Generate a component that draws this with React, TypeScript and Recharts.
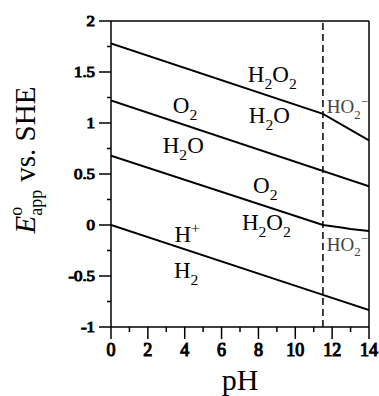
import React from 'react';
import { LineChart, Line, XAxis, YAxis, ReferenceLine, ReferenceDot } from 'recharts';

// ---- data ----
const xTicks = [0, 1, 2, 3, 4, 5, 6, 7, 8, 9, 10, 11, 12, 13, 14];
const xMajorTicks = [0, 2, 4, 6, 8, 10, 12, 14];
const yTicks = [-1, -0.75, -0.5, -0.25, 0, 0.25, 0.5, 0.75, 1, 1.25, 1.5, 1.75, 2];
const yMajorTicks = [-1, -0.5, 0, 0.5, 1, 1.5, 2];

const h2o2ToH2o = [
  { pH: 0, E: 1.78 },
  { pH: 11.5, E: 1.09 },
  { pH: 14, E: 0.83 },
];
const o2ToH2o = [
  { pH: 0, E: 1.22 },
  { pH: 14, E: 0.38 },
];
const o2ToH2o2 = [
  { pH: 0, E: 0.68 },
  { pH: 11.5, E: 0.0 },
  { pH: 12.5, E: -0.025 },
  { pH: 13, E: -0.04 },
  { pH: 14, E: -0.06 },
];
const hToH2 = [
  { pH: 0, E: 0 },
  { pH: 11.5, E: -0.685 },
  { pH: 14, E: -0.835 },
];
const pKa = 11.5;

type Part = [string, ('sub' | 'sup' | '')?];
const annotations: { pH: number; E: number; parts: Part[]; small?: boolean }[] = [
  { pH: 8.75, E: 1.405, parts: [['H'], ['2', 'sub'], ['O'], ['2', 'sub']] },
  { pH: 8.59, E: 1.0, parts: [['H'], ['2', 'sub'], ['O']] },
  { pH: 4.02, E: 1.098, parts: [['O'], ['2', 'sub']] },
  { pH: 3.92, E: 0.706, parts: [['H'], ['2', 'sub'], ['O']] },
  { pH: 8.37, E: 0.314, parts: [['O'], ['2', 'sub']] },
  { pH: 8.43, E: -0.049, parts: [['H'], ['2', 'sub'], ['O'], ['2', 'sub']] },
  { pH: 4.13, E: -0.164, parts: [['H'], ['+', 'sup']] },
  { pH: 4.08, E: -0.52, parts: [['H'], ['2', 'sub']] },
  { pH: 12.83, E: 1.095, parts: [['HO'], ['2', 'sub'], ['\u2212', 'sup']], small: true },
  { pH: 12.83, E: -0.252, parts: [['HO'], ['2', 'sub'], ['\u2212', 'sup']], small: true },
];

const SERIF = 'Liberation Serif';

function Formula({ x, y, parts, size, color }: { x: number; y: number; parts: Part[]; size: number; color: string }) {
  let offset = 0;
  const small = size * 0.68;
  const spans = parts.map((p, i) => {
    const [t, kind] = p;
    const target = kind === 'sub' ? size * 0.3 : kind === 'sup' ? -size * 0.4 : 0;
    const dy = target - offset;
    offset = target;
    return (
      <tspan key={i} dy={dy} fontSize={kind ? small : size}>
        {t}
      </tspan>
    );
  });
  return (
    <text x={x} y={y} textAnchor="middle" fill={color} fontFamily={SERIF} fontSize={size}>
      {spans}
    </text>
  );
}

const YTick = (props: any) => {
  const { x, y, payload } = props;
  const v = payload.value;
  const major = yMajorTicks.includes(v);
  return (
    <g>
      <line x1={x - (major ? 12 : 4)} x2={x} y1={y} y2={y} stroke="#000" strokeWidth={1.5} />
      {major && (
        <text
          transform={`translate(${x - 16},${y + 5}) scale(1.2,1)`}
          textAnchor="end"
          fontFamily={SERIF}
          fontSize={14}
          fill="#000"
          stroke="#000"
          strokeWidth={1}
        >
          {String(v)}
        </text>
      )}
    </g>
  );
};

const XTick = (props: any) => {
  const { x, y, payload } = props;
  const v = payload.value;
  const major = xMajorTicks.includes(v);
  return (
    <g>
      <line x1={x} x2={x} y1={y} y2={y + (major ? 12 : 5)} stroke="#000" strokeWidth={1.5} />
      {major && (
        <text
          x={x}
          y={y + 29}
          textAnchor="middle"
          fontFamily={SERIF}
          fontSize={18}
          fill="#000"
          stroke="#000"
          strokeWidth={1.1}
        >
          {String(v)}
        </text>
      )}
    </g>
  );
};

const XTitle = (props: any) => {
  const vb = props.viewBox;
  return (
    <text x={vb.x + vb.width / 2} y={vb.y + 63} textAnchor="middle" fontFamily={SERIF} fontSize={30} fill="#000">
      pH
    </text>
  );
};

const YTitle = (props: any) => {
  const vb = props.viewBox;
  const cx = vb.x - 16;
  const cy = vb.y + vb.height / 2 - 14;
  return (
    <text
      transform={`translate(${cx},${cy}) rotate(-90)`}
      textAnchor="middle"
      fontFamily={SERIF}
      fontSize={29}
      fill="#000"
    >
      <tspan fontStyle="italic">E</tspan>
      <tspan fontSize={18} dy={-13}>o</tspan>
      <tspan fontSize={18} dx={-9} dy={20}>app</tspan>
      <tspan dx={8} dy={-7}>vs. SHE</tspan>
    </text>
  );
};

export default function App() {
  return (
    <div style={{ position: 'absolute', left: 0, top: 0, width: 379, height: 396, background: '#fff' }}>
      <LineChart width={379} height={396} margin={{ top: 21, right: 10, left: 51, bottom: 29 }}>
        <XAxis
          dataKey="pH"
          type="number"
          domain={[0, 14]}
          ticks={xTicks}
          interval={0}
          tickSize={0}
          tickMargin={0}
          tickLine={false}
          tick={<XTick />}
          height={40}
          axisLine={{ stroke: '#000', strokeWidth: 1.5 }}
          allowDataOverflow
          label={XTitle}
        />
        <YAxis
          type="number"
          domain={[-1, 2]}
          ticks={yTicks}
          interval={0}
          tickSize={0}
          tickMargin={0}
          tickLine={false}
          tick={<YTick />}
          width={60}
          axisLine={{ stroke: '#000', strokeWidth: 1.5 }}
          allowDataOverflow
          label={YTitle}
        />
        <ReferenceLine y={2} stroke="#000" strokeWidth={1.5} />
        <ReferenceLine x={14} stroke="#000" strokeWidth={1.5} />
        <ReferenceLine x={pKa} stroke="#000" strokeWidth={1.5} strokeDasharray="7 4" />
        <Line data={h2o2ToH2o} dataKey="E" type="linear" stroke="#000" strokeWidth={2} dot={false} isAnimationActive={false} />
        <Line data={o2ToH2o} dataKey="E" type="linear" stroke="#000" strokeWidth={2} dot={false} isAnimationActive={false} />
        <Line data={o2ToH2o2} dataKey="E" type="linear" stroke="#000" strokeWidth={2} dot={false} isAnimationActive={false} />
        <Line data={hToH2} dataKey="E" type="linear" stroke="#000" strokeWidth={2} dot={false} isAnimationActive={false} />
        {annotations.map((a, i) => (
          <ReferenceDot
            key={i}
            x={a.pH}
            y={a.E}
            r={1}
            fill="none"
            stroke="none"
            label={(p: any) => {
              const vb = p.viewBox;
              return (
                <Formula
                  x={vb.x + vb.width / 2}
                  y={vb.y + vb.height / 2}
                  parts={a.parts}
                  size={a.small ? 19 : 23}
                  color={a.small ? '#444' : '#000'}
                />
              );
            }}
          />
        ))}
      </LineChart>
    </div>
  );
}
